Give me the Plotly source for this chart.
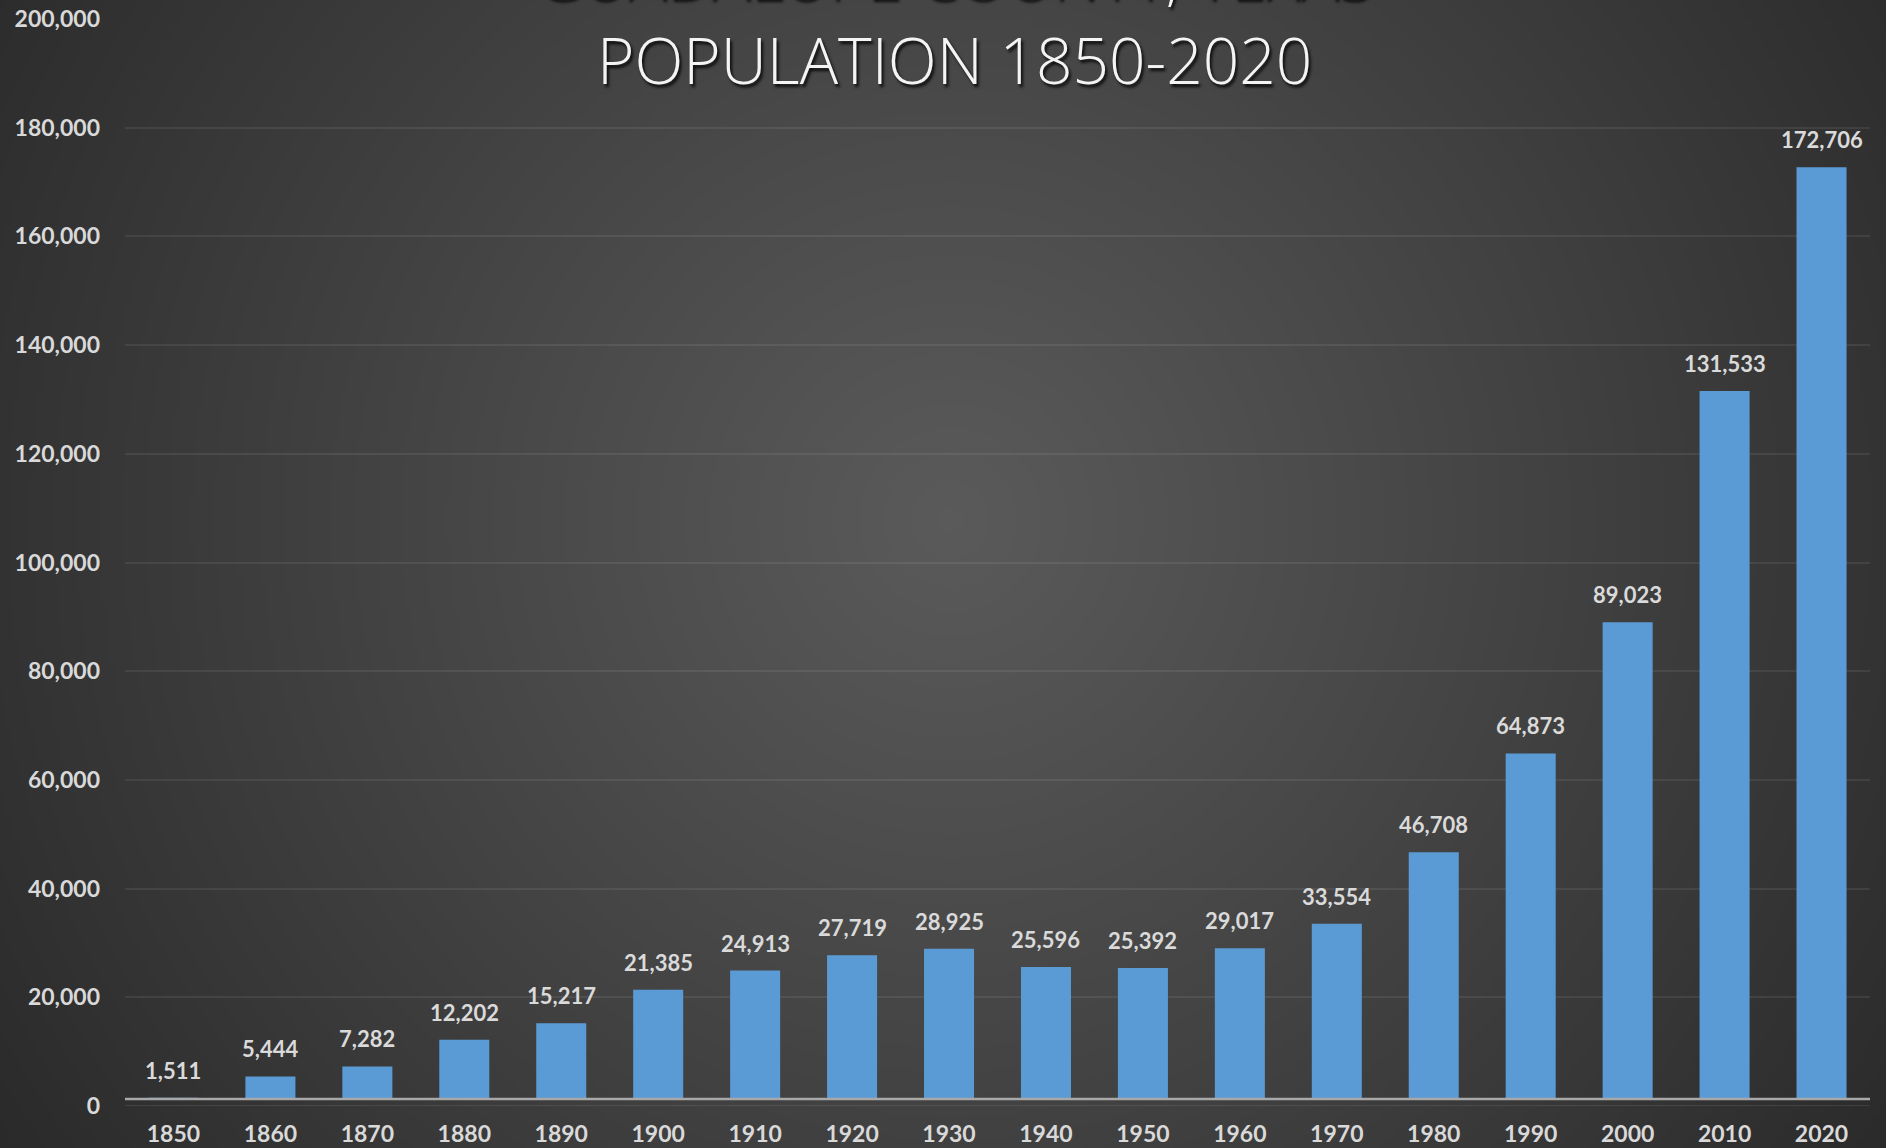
import base64
import math
import struct
import zlib

import plotly.graph_objects as go

# Census population of Guadalupe County, Texas
years = ["1850", "1860", "1870", "1880", "1890", "1900", "1910", "1920", "1930",
         "1940", "1950", "1960", "1970", "1980", "1990", "2000", "2010", "2020"]
population = [1511, 5444, 7282, 12202, 15217, 21385, 24913, 27719, 28925,
              25596, 25392, 29017, 33554, 46708, 64873, 89023, 131533, 172706]
y_ticks = [0, 20000, 40000, 60000, 80000, 100000, 120000, 140000, 160000, 180000, 200000]
title_lines = ["GUADALUPE COUNTY, TEXAS", "POPULATION 1850-2020"]

W, H = 1886, 1148
ML, MR, MT, MB = 125, 16, 19, 42
PW, PH = W - ML - MR, H - MT - MB
PAD = 24  # backdrop overhang beyond the canvas edges


def px_to_paper_x(px):
    return (px - ML) / PW


def px_to_paper_y(py):
    return (H - MB - py) / PH


def shade(x, y):
    # radial dark-grey backdrop, lighter toward the middle
    cx, cy = 950, 520
    r = math.hypot(x - cx, y - cy) / math.hypot(cx, H - cy)
    return int(round(90 - 48 * min(r, 1.0) ** 1.05))


def gray_png(rows):
    h = len(rows)
    w = len(rows[0])
    raw = b"".join(b"\x00" + bytes(r) for r in rows)

    def chunk(tag, data):
        c = tag + data
        return struct.pack(">I", len(data)) + c + struct.pack(">I", zlib.crc32(c) & 0xFFFFFFFF)

    png = b"\x89PNG\r\n\x1a\n"
    png += chunk(b"IHDR", struct.pack(">IIBBBBB", w, h, 8, 0, 0, 0, 0))
    png += chunk(b"IDAT", zlib.compress(raw, 9))
    png += chunk(b"IEND", b"")
    return "data:image/png;base64," + base64.b64encode(png).decode()


step = 4
bw, bh = W + 2 * PAD, H + 2 * PAD
bg_rows = [[shade(x * step - PAD, y * step - PAD) for x in range(bw // step + 1)]
           for y in range(bh // step + 1)]
backdrop = gray_png(bg_rows)

# thin strip of backdrop laid over the bar feet, beneath the category axis line
strip_rows = [[shade(ML + x * step, 1103) for x in range(PW // step + 1)]]
strip = gray_png(strip_rows)

fig = go.Figure()
fig.add_trace(go.Bar(
    x=years,
    y=population,
    marker=dict(color="#5b9bd5", line=dict(width=0)),
    hoverinfo="x+y",
))

annotations = []
for i, v in enumerate(population):
    annotations.append(dict(
        x=i, y=v, xref="x", yref="y",
        text=f"{v:,}", showarrow=False,
        yanchor="bottom", yshift=12,
        font=dict(family="Lato", size=22, color="#dadada", weight="bold"),
    ))

title_font = dict(family="Open Sans", size=64, color="#f4f4f4", weight=300,
                  shadow="2px 3px 3px rgba(0,0,0,0.85)")
annotations.append(dict(
    x=px_to_paper_x(954), y=px_to_paper_y(-25), xref="paper", yref="paper",
    text=title_lines[0], showarrow=False, xanchor="center", yanchor="middle",
    font=title_font,
))
annotations.append(dict(
    x=px_to_paper_x(954), y=px_to_paper_y(60), xref="paper", yref="paper",
    text=title_lines[1], showarrow=False, xanchor="center", yanchor="middle",
    font=title_font,
))

fig.update_layout(
    width=W, height=H,
    margin=dict(l=ML, r=MR, t=MT, b=MB, pad=0, autoexpand=False),
    paper_bgcolor="#2e2e2e",
    plot_bgcolor="rgba(0,0,0,0)",
    showlegend=False,
    bargap=0.484,
    annotations=annotations,
    images=[
        dict(source=backdrop, xref="paper", yref="paper",
             x=px_to_paper_x(-PAD), y=px_to_paper_y(-PAD),
             sizex=bw / PW, sizey=bh / PH, xanchor="left", yanchor="top",
             sizing="stretch", layer="below"),
        dict(source=strip, xref="paper", yref="paper",
             x=0, y=px_to_paper_y(1100), sizex=1, sizey=7 / PH,
             xanchor="left", yanchor="top", sizing="stretch", layer="above"),
    ],
    shapes=[
        dict(type="line", xref="paper", yref="paper",
             x0=0, x1=1, y0=px_to_paper_y(1099), y1=px_to_paper_y(1099),
             line=dict(color="#a8a8a8", width=2.5), layer="above"),
        dict(type="line", xref="paper", yref="y",
             x0=0, x1=1, y0=0, y1=0,
             line=dict(color="rgba(255,255,255,0.09)", width=2), layer="above"),
    ],
    xaxis=dict(
        type="category",
        categoryorder="array", categoryarray=years,
        range=[-0.5, len(years) - 0.5],
        automargin=False,
        showgrid=False, zeroline=False, showline=False, ticks="",
        tickfont=dict(family="Lato", size=23, color="#d9d9d9", weight="bold"),
        ticklabelstandoff=12,
        fixedrange=True,
    ),
    yaxis=dict(
        range=[0, 200000],
        automargin=False,
        tickvals=y_ticks,
        ticktext=[f"{t:,}" for t in y_ticks],
        showgrid=True, gridcolor="rgba(255,255,255,0.075)", gridwidth=2,
        zeroline=False, showline=False, ticks="",
        tickfont=dict(family="Lato", size=23, color="#d9d9d9", weight="bold"),
        ticklabelstandoff=24,
        fixedrange=True,
    ),
)

fig.write_html(
    "out.html",
    post_script="document.body.style.margin='0';document.body.style.overflow='hidden';",
)
